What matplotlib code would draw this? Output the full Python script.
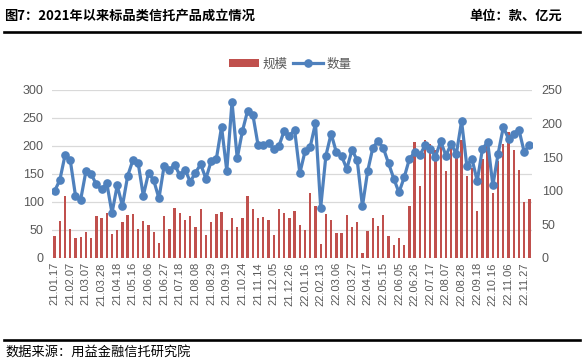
import matplotlib
matplotlib.use("Agg")
import matplotlib.pyplot as plt
from matplotlib.lines import Line2D
from matplotlib.patches import Patch
import numpy as np

plt.rcParams['font.family'] = ['Noto Sans CJK SC', 'DejaVu Sans']

title = "图7：2021年以来标品类信托产品成立情况"
unit_text = "单位：款、亿元"
source_text = "数据来源：用益金融信托研究院"
bar_name = "规模"
line_name = "数量"

tick_labels = ["21.01.17", "21.02.07", "21.03.07", "21.03.28", "21.04.18", "21.05.16",
               "21.06.06", "21.06.27", "21.07.18", "21.08.08", "21.08.29", "21.09.19",
               "21.10.24", "21.11.14", "21.12.05", "21.12.26", "22.01.16", "22.02.13",
               "22.03.06", "22.03.27", "22.04.17", "22.05.15", "22.06.05", "22.06.26",
               "22.07.17", "22.08.07", "22.08.28", "22.09.18", "22.10.16", "22.11.06",
               "22.11.27"]

scale = [38.5, 66, 110.5, 52, 36, 38, 47, 36, 75.5, 72,
         80.5, 43.5, 50.5, 64.5, 77, 79, 52, 66.5, 59.5, 47,
         27.5, 75.5, 52, 90, 80.5, 68, 75.5, 56, 87.5, 41.5,
         64.5, 78.5, 82, 50, 71.5, 55.5, 71.5, 110.5, 87.5, 71.5,
         73.5, 68, 41.5, 87.5, 80.5, 71.5, 84, 59, 50, 116,
         93, 25.5, 78.5, 68, 45, 45, 77, 56, 64.5, 9.5,
         48.5, 71.5, 57.5, 77, 39.5, 23.5, 36, 24, 93, 207,
         128.5, 210, 204, 192, 201, 155.5, 201, 187.5, 210, 146,
         161.5, 84, 176, 207, 116, 173, 203.5, 225, 192, 157,
         100, 106]

count = [99.6, 116, 153, 145.5, 92.7, 87, 129, 125, 109.5, 102,
         111.5, 66.8, 108, 77.5, 122, 145.5, 142, 92.7, 126.5, 115.5,
         88.7, 137.6, 130.5, 139, 123, 131.5, 113.5, 127, 139.5, 118,
         144, 147.4, 195.3, 129.7, 232.5, 148.4, 189, 219.4, 213, 167.7,
         168.6, 170.6, 162.7, 166.7, 189.3, 181.7, 190.8, 126.2, 158.8, 165.7,
         200.7, 75, 152.4, 185, 157.3, 151.9, 132.6, 160.8, 145.5, 77,
         129.2, 164.2, 174, 163.7, 141, 118.3, 97.5, 119.8, 147.4, 157.3,
         152.9, 167.7, 162.2, 150.9, 173.6, 152.4, 169.6, 154.8, 203.7, 137.6,
         147.4, 114.4, 162.2, 172.6, 108, 154.8, 194.8, 177.5, 185, 190.8,
         157.8, 168.6]

left_ticks = [0, 50, 100, 150, 200, 250, 300]
right_ticks = [0, 50, 100, 150, 200, 250]

W, H = 583, 364
fig = plt.figure(figsize=(W / 100, H / 100), dpi=100)
fig.patch.set_facecolor('white')

ax = fig.add_axes([52 / W, 1 - 258 / H, 480 / W, 168 / H])
ax2 = ax.twinx()

x = np.arange(len(scale))
bar_color = '#C0504D'
line_color = '#4F81BD'
tick_color = '#595959'
grid_color = '#D9D9D9'

ax.bar(x, scale, width=0.45, color=bar_color, zorder=2)
ax2.plot(x, count, color=line_color, lw=2.3, marker='o', markersize=5.2,
         markerfacecolor=line_color, markeredgecolor=line_color, zorder=3)

ax.set_xlim(-0.5, len(scale) - 0.5)
ax.set_ylim(0, 300)
ax2.set_ylim(0, 250)
ax.set_yticks(left_ticks)
ax2.set_yticks(right_ticks)
ax.yaxis.grid(True, color=grid_color, lw=0.9, zorder=0)
ax.set_axisbelow(True)

ax.set_xticks(x[::3])
ax.set_xticklabels(tick_labels, rotation=90, family=['Liberation Sans'],
                   fontsize=8, color=tick_color)
for lab in ax.get_yticklabels():
    lab.set_family(['Liberation Sans'])
for lab in ax2.get_yticklabels():
    lab.set_family(['Liberation Sans'])
ax.tick_params(axis='x', length=0, pad=3)
ax.tick_params(axis='y', length=0, pad=6, labelsize=9, labelcolor=tick_color)
ax2.tick_params(axis='y', length=0, pad=7, labelsize=9, labelcolor=tick_color)

for a in (ax, ax2):
    for s in a.spines.values():
        s.set_visible(False)

handles = [Patch(facecolor=bar_color, edgecolor='none'),
           Line2D([0], [0], color=line_color, lw=2.3, marker='o', markersize=5.2)]
fig.legend(handles, [bar_name, line_name], loc='center', ncol=2,
           bbox_to_anchor=(290 / W, 1 - 64 / H), frameon=False, fontsize=9,
           handlelength=2.4, handleheight=0.6, columnspacing=0.4,
           handletextpad=0.3, labelcolor=tick_color)

fig.text(4 / W, 1 - 16 / H, title, fontsize=9.5, fontweight='bold',
         ha='left', va='center', color='black')
fig.text(562 / W, 1 - 16 / H, unit_text, fontsize=9.5, fontweight='bold',
         ha='right', va='center', color='black')
fig.add_artist(Line2D([4 / W, 580 / W], [1 - 32.3 / H] * 2, color='black', lw=1.9))
fig.add_artist(Line2D([4 / W, 580 / W], [1 - 340 / H] * 2, color='black', lw=1.9))
fig.text(5 / W, 1 - 353 / H, source_text, fontsize=9.5, ha='left', va='center',
         color='black')

fig.savefig('out.png', dpi=100, facecolor='white')
